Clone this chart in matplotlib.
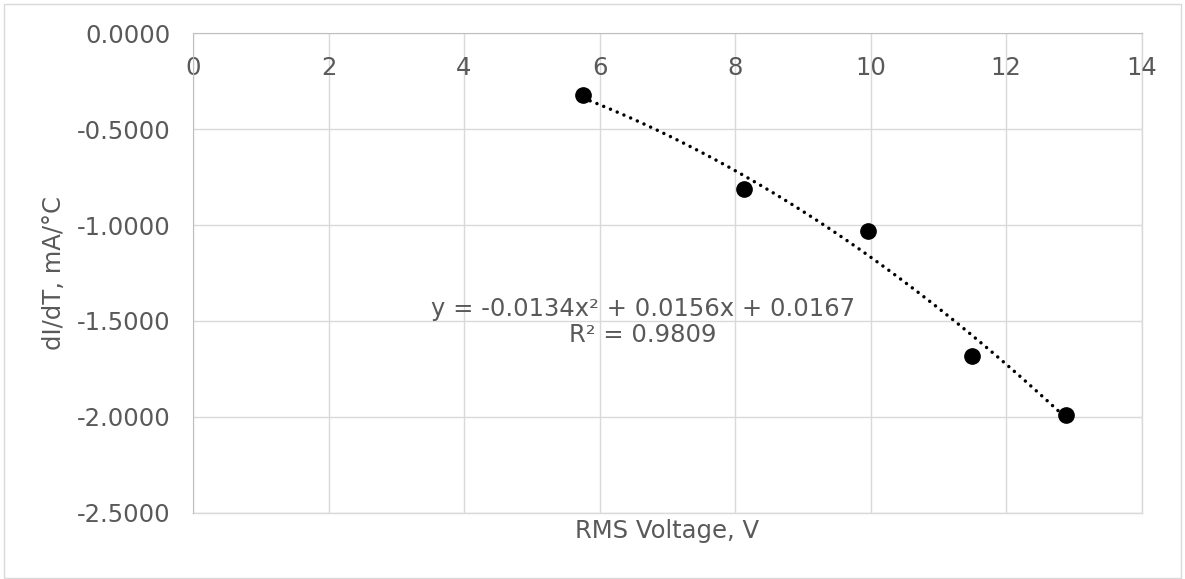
import numpy as np
import matplotlib
matplotlib.use("Agg")
import matplotlib.pyplot as plt
from matplotlib.patches import Rectangle

# ---- data ----
rms_voltage = [5.76, 8.13, 9.96, 11.49, 12.89]
didt = [-0.322, -0.813, -1.031, -1.683, -1.990]
trend_coeffs = [-0.0134, 0.0156, 0.0167]   # quadratic trendline a, b, c
equation_text = "y = -0.0134x² + 0.0156x + 0.0167\nR² = 0.9809"
x_ticks = [0, 2, 4, 6, 8, 10, 12, 14]
y_ticks = [0.0, -0.5, -1.0, -1.5, -2.0, -2.5]
x_label = "RMS Voltage, V"
y_label = "dI/dT, mA/°C"

plt.rcParams['font.family'] = ['DejaVu Sans']
TXT = '#595959'
GRID = '#d9d9d9'
FS = 17.5

fig = plt.figure(figsize=(11.85, 5.79), dpi=100)
W, H = 1185, 579
ax = fig.add_axes([193 / W, 1 - 512.7 / H, (1141.7 - 193) / W, (512.7 - 33.3) / H])

# outer chart border
fig.patches.append(Rectangle((4 / W, 1.5 / H), (1181 - 4) / W, (577.5 - 4) / H,
                             transform=fig.transFigure, fill=False,
                             edgecolor=GRID, linewidth=1.0))

ax.set_xlim(0, 14)
ax.set_ylim(-2.5, 0)
ax.set_xticks(x_ticks)
ax.set_xticklabels([str(v) for v in x_ticks])
ax.set_yticks(y_ticks)
ax.set_yticklabels(["{:.4f}".format(v) if v != 0 else "0.0000" for v in y_ticks])

ax.grid(True, color=GRID, linewidth=1.0)
ax.set_axisbelow(True)
ax.axhline(-2.5, color=GRID, linewidth=1.0, clip_on=False, zorder=0.5)
ax.axvline(14, color=GRID, linewidth=1.0, clip_on=False, zorder=0.5)

# x axis crosses at y = 0 (top)
ax.spines['bottom'].set_position(('data', 0))
ax.spines['bottom'].set_color('#bfbfbf')
ax.spines['left'].set_color('#bfbfbf')
ax.spines['top'].set_visible(False)
ax.spines['right'].set_visible(False)
ax.tick_params(axis='x', length=0, pad=16, labelsize=FS, labelcolor=TXT)
ax.tick_params(axis='y', length=0, pad=16, labelsize=FS, labelcolor=TXT)

# data points
ax.plot(rms_voltage, didt, linestyle='none', marker='o', markersize=11,
        color='black', zorder=4)

# polynomial trendline
xs = np.linspace(min(rms_voltage), max(rms_voltage), 200)
ys = np.polyval(trend_coeffs, xs)
ax.plot(xs, ys, color='black', linewidth=2.5, linestyle=(0, (0.01, 2.1)),
        dash_capstyle='round', zorder=3)

ax.text(6.64, -1.505, equation_text, ha='center', va='center',
        multialignment='center', fontsize=FS, color=TXT, linespacing=1.1)

ax.set_xlabel(x_label, fontsize=FS, color=TXT, va='top')
ax.xaxis.set_label_coords(0.5, -0.013)
ax.set_ylabel(y_label, fontsize=FS, color=TXT, labelpad=8)

fig.savefig("out.png", dpi=100, facecolor='white')
